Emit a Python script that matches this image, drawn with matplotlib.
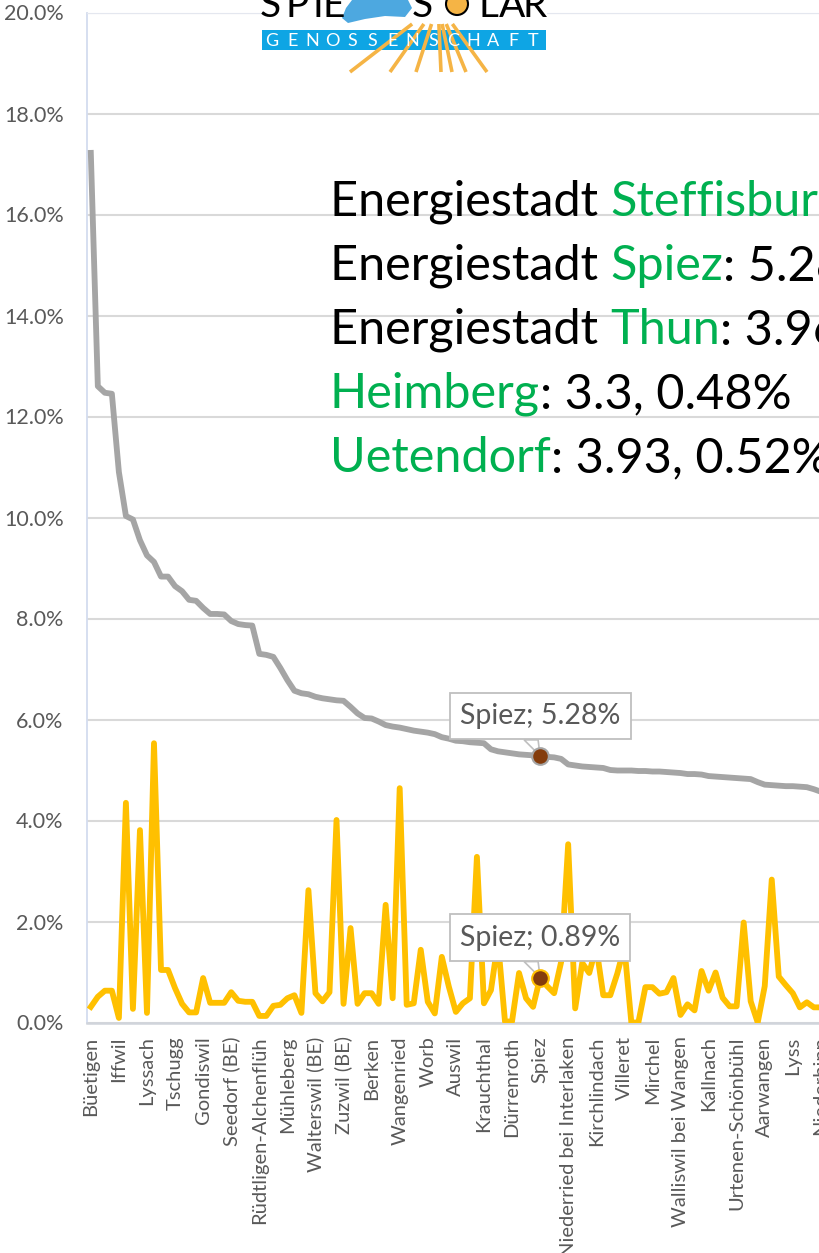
import matplotlib
matplotlib.use("Agg")
import matplotlib.pyplot as plt
from matplotlib.patches import Polygon, Rectangle, Circle
from matplotlib.transforms import IdentityTransform
from matplotlib.ticker import FuncFormatter, MultipleLocator

# share values in percent, municipalities sorted by the grey series
grey_share = [
    17.22, 12.60, 12.47, 12.45, 10.90, 10.03, 9.96, 9.55, 9.25, 9.12,
    8.83, 8.83, 8.64, 8.54, 8.37, 8.35, 8.21, 8.09, 8.09, 8.08,
    7.95, 7.89, 7.87, 7.86, 7.30, 7.28, 7.24, 7.02, 6.78, 6.57,
    6.52, 6.50, 6.45, 6.42, 6.40, 6.38, 6.37, 6.25, 6.12, 6.03,
    6.02, 5.96, 5.89, 5.86, 5.84, 5.81, 5.78, 5.76, 5.74, 5.71,
    5.65, 5.62, 5.58, 5.57, 5.55, 5.54, 5.53, 5.41, 5.37, 5.35,
    5.33, 5.31, 5.30, 5.29, 5.28, 5.26, 5.25, 5.22, 5.11, 5.09,
    5.07, 5.06, 5.05, 5.04, 5.00, 4.99, 4.99, 4.99, 4.98, 4.98,
    4.97, 4.97, 4.96, 4.95, 4.94, 4.92, 4.92, 4.91, 4.88, 4.87,
    4.86, 4.85, 4.84, 4.83, 4.82, 4.76, 4.71, 4.70, 4.69, 4.68,
    4.68, 4.67, 4.66, 4.62, 4.57, 4.55, 4.53, 4.51,
]
yellow_share = [
    0.31, 0.51, 0.63, 0.63, 0.09, 4.35, 0.27, 3.81, 0.19, 5.53,
    1.04, 1.04, 0.68, 0.37, 0.20, 0.20, 0.88, 0.39, 0.39, 0.39,
    0.60, 0.43, 0.41, 0.41, 0.13, 0.13, 0.33, 0.35, 0.48, 0.54,
    0.19, 2.62, 0.58, 0.42, 0.60, 4.01, 0.37, 1.87, 0.37, 0.58,
    0.58, 0.37, 2.33, 0.48, 4.64, 0.35, 0.38, 1.44, 0.41, 0.18,
    1.30, 0.71, 0.21, 0.38, 0.48, 3.28, 0.38, 0.64, 1.60, 0.02,
    0.02, 0.98, 0.48, 0.31, 0.89, 0.72, 0.58, 1.20, 3.53, 0.28,
    1.18, 0.98, 1.50, 0.54, 0.54, 0.97, 1.50, 0.00, 0.00, 0.70,
    0.70, 0.57, 0.60, 0.88, 0.15, 0.36, 0.24, 1.02, 0.63, 0.99,
    0.49, 0.32, 0.32, 1.98, 0.42, 0.00, 0.72, 2.83, 0.91, 0.74,
    0.58, 0.30, 0.40, 0.30, 0.30, 0.45, 0.35, 0.40,
]
# every 4th municipality is labelled on the axis
tick_names = [
    "Büetigen", "Iffwil", "Lyssach", "Tschugg", "Gondiswil", "Seedorf (BE)",
    "Rüdtligen-Alchenflüh", "Mühleberg", "Walterswil (BE)", "Zuzwil (BE)",
    "Berken", "Wangenried", "Worb", "Auswil", "Krauchthal", "Dürrenroth",
    "Spiez", "Niederried bei Interlaken", "Kirchlindach", "Villeret",
    "Mirchel", "Walliswil bei Wangen", "Kallnach", "Urtenen-Schönbühl",
    "Aarwangen", "Lyss", "Niederbipp",
]
highlight_name = "Spiez"
highlight_idx = 64

# text block: (segment, is_place_name)
info_lines = [
    [("Energiestadt ", False), ("Steffisburg", True), (": 4.65, 0.35%", False)],
    [("Energiestadt ", False), ("Spiez", True), (": 5.28, 0.89%", False)],
    [("Energiestadt ", False), ("Thun", True), (": 3.96, 0.55%", False)],
    [("Heimberg", True), (": 3.3, 0.48%", False)],
    [("Uetendorf", True), (": 3.93, 0.52%", False)],
]

GREY = "#A5A5A5"
YELLOW = "#FFC000"
GREEN = "#00B050"
TXT = "#595959"
BROWN = "#843C0C"

plt.rcParams["font.family"] = ["Lato", "DejaVu Sans"]

W, H = 820, 1253
fig = plt.figure(figsize=(W / 100, H / 100), dpi=100)

n = len(grey_share)
step = 7.02          # px per category
x_left, y_zero, y_top = 87.3, 1022.5, 12.5
ax = fig.add_axes([x_left / W, 1 - y_zero / H, n * step / W, (y_zero - y_top) / H])

xs = range(n)
ax.plot(xs, grey_share, color=GREY, lw=4.2, solid_joinstyle="round", zorder=3)
ax.plot(xs, yellow_share, color=YELLOW, lw=4.2, solid_joinstyle="round", zorder=3)

ax.set_xlim(-0.5, n - 0.5)
ax.set_ylim(0, 20)
ax.yaxis.set_major_locator(MultipleLocator(2))
ax.yaxis.set_major_formatter(FuncFormatter(lambda v, p: f"{v:.1f}%"))
ax.grid(axis="y", color="#D9D9D9", lw=1.5)
ax.set_axisbelow(True)
ax.set_xticks(list(range(0, n, 4))[:len(tick_names)])
ax.set_xticklabels(tick_names, rotation=90, ha="center", va="top")
ax.tick_params(axis="x", length=0, pad=10, labelsize=14.5, labelcolor=TXT)
ax.tick_params(axis="y", length=0, pad=17, labelsize=15.5, labelcolor=TXT)
ax.spines["right"].set_visible(False)
ax.spines["top"].set_color("#E4E7EF")
ax.spines["left"].set_color("#D3DCEF")
ax.spines["left"].set_linewidth(1.3)
ax.spines["bottom"].set_color("#D0D4DB")
ax.spines["bottom"].set_linewidth(1.8)

# highlighted municipality: marker, callout wedge and label box
for series, ring in ((grey_share, GREY), (yellow_share, YELLOW)):
    v = series[highlight_idx]
    px, py = ax.transData.transform((highlight_idx, v))
    wedge = Polygon([[px - 16, py + 16], [px - 2, py + 16], [px, py]], closed=True,
                    fc="white", ec="#BFBFBF", lw=1.2, transform=IdentityTransform(),
                    zorder=4)
    ax.add_patch(wedge)
    ax.plot([highlight_idx], [v], "o", ms=12, mfc=BROWN, mec=ring, mew=1.5, zorder=5)
    ax.annotate(f"{highlight_name}; {v:.2f}%", xy=(highlight_idx, v), xytext=(0, 40),
                textcoords="offset pixels", ha="center", va="center", fontsize=20.5,
                color=TXT, zorder=6,
                bbox=dict(boxstyle="square,pad=0.36", fc="white", ec="#BFBFBF", lw=1.3))

# overlay in pixel coordinates for logo and text block
lax = fig.add_axes([0, 0, 1, 1], zorder=5)
lax.set_xlim(0, W)
lax.set_ylim(H, 0)
lax.axis("off")
lax.patch.set_alpha(0)

# logo
lax.add_patch(Rectangle((262, 0), 285, 76, fc="white", ec="none"))
sun_col = "#F5B445"
for bx in (350, 390, 416, 441, 452, 466, 487):
    t0 = (24 - 4) / 68
    lax.plot([438 + t0 * (bx - 438), bx], [24, 72], color=sun_col, lw=2.6,
             solid_capstyle="butt")
lax.add_patch(Rectangle((262, 30), 284, 20, fc="#0EA5E4", ec="none"))
for i, ch in enumerate("GENOSSENSCHAFT"):
    lax.text(272 + i * 20.1, 40.5, ch, color="white", fontsize=13,
             ha="center", va="center")
for cx, ch in ((270, "S"), (297, "P"), (318, "I"), (334, "E"),
               (422, "S"), (488, "L"), (512, "A"), (535, "R")):
    lax.text(cx, 17, ch, color="black", fontsize=28, ha="center", va="baseline")
lax.add_patch(Polygon([[352, 0], [408, 0], [412, 8], [405, 17], [385, 16],
                       [365, 19], [348, 23], [342, 18], [346, 8]],
                      closed=True, fc="#4DA8E0", ec="none"))
lax.add_patch(Circle((457, 4), 11, fc=sun_col, ec="black", lw=1.5))

# coloured text block
renderer = fig.canvas.get_renderer()
base = 216
for line in info_lines:
    x = 330
    for seg, is_place in line:
        t = lax.text(x, base, seg, color=GREEN if is_place else "black",
                     fontsize=35, ha="left", va="baseline")
        x += t.get_window_extent(renderer).width
    base += 64

fig.savefig("out.png", dpi=100)
